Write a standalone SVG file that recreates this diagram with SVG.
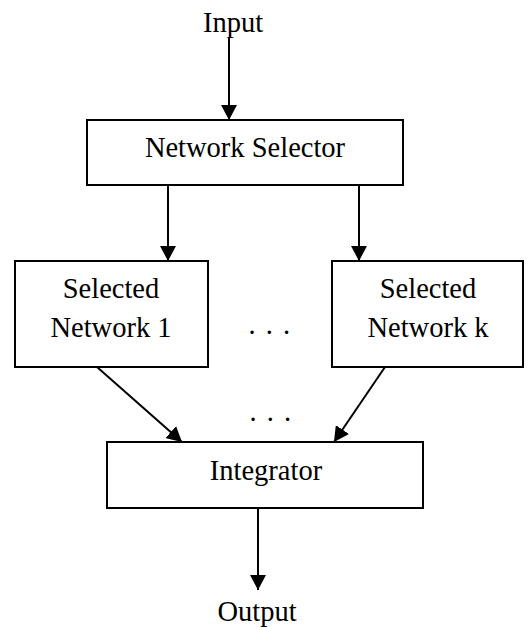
<svg xmlns="http://www.w3.org/2000/svg" width="526" height="627" viewBox="0 0 526 627">
<defs>
<marker id="ah" markerUnits="userSpaceOnUse" markerWidth="18" markerHeight="16" refX="15" refY="8" orient="auto">
<polygon points="0,0 15,8 0,16" fill="#000"/>
</marker>
<style>
.box{fill:#fff;stroke:#000;stroke-width:2}
.lbl{font-family:'Liberation Serif','Times New Roman',Times,'DejaVu Serif',serif;font-size:28.5px;fill:#000;text-anchor:middle}
.c{stroke:#000;stroke-width:2;fill:none;marker-end:url(#ah)}
</style>
</defs>
<rect width="526" height="627" fill="#fff"/>
<g id="connectors">
<line class="c" x1="229" y1="38" x2="229" y2="120"/>
<line class="c" x1="168" y1="185" x2="168" y2="261"/>
<line class="c" x1="359" y1="185" x2="359" y2="261"/>
<line class="c" x1="97" y1="367" x2="182" y2="442"/>
<line class="c" x1="385" y1="367" x2="334" y2="442"/>
<line class="c" x1="258" y1="508" x2="258" y2="590"/>
</g>
<g id="input"><text class="lbl" x="233" y="32">Input</text></g>
<g id="selector">
<rect class="box" x="87" y="120" width="316" height="65"/>
<text class="lbl" x="245" y="157">Network Selector</text>
</g>
<g id="net1">
<rect class="box" x="15" y="261" width="193" height="106"/>
<text class="lbl" x="111" y="298">Selected</text>
<text class="lbl" x="111" y="337">Network 1</text>
</g>
<g id="dots1"><text class="lbl" x="270" y="334" letter-spacing="1.5">. . .</text></g>
<g id="netk">
<rect class="box" x="332" y="261" width="191" height="106"/>
<text class="lbl" x="428" y="298">Selected</text>
<text class="lbl" x="428" y="337">Network k</text>
</g>
<g id="dots2"><text class="lbl" x="271" y="421" letter-spacing="1.5">. . .</text></g>
<g id="integrator">
<rect class="box" x="107" y="442" width="316" height="66"/>
<text class="lbl" x="266" y="480">Integrator</text>
</g>
<g id="output"><text class="lbl" x="257" y="621">Output</text></g>
</svg>
